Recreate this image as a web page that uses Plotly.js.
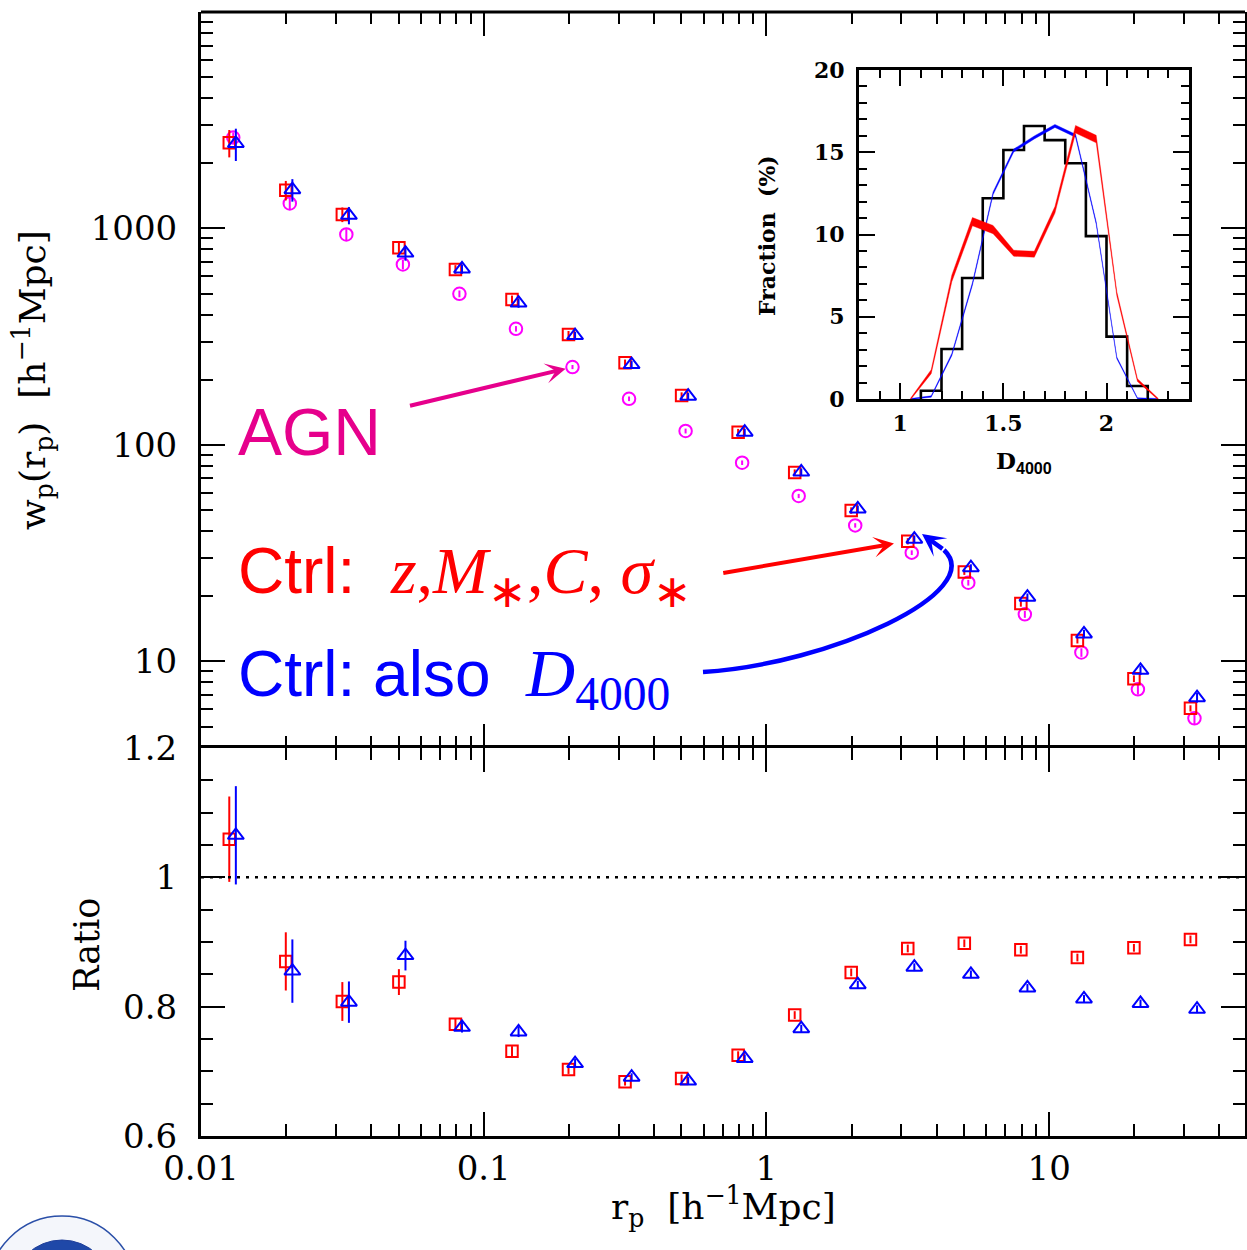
<!DOCTYPE html>
<html><head><meta charset="utf-8">
<script src="https://cdn.plot.ly/plotly-3.0.1.min.js"></script>
<style>html,body{margin:0;padding:0;background:#fff}#chart{width:1247px;height:1250px}</style>
</head><body><div id="chart"></div>
<script>
// ---- main panel data ----
const rp = [0.01259, 0.01995, 0.03162, 0.05012, 0.07943, 0.1259, 0.1995, 0.3162, 0.5012, 0.7943, 1.259, 1.995, 3.162, 5.012, 7.943, 12.59, 19.95, 31.62];
const wpAGN   = [2630, 1305, 938, 682, 499, 344, 229, 163.4, 116, 82.8, 58.1, 42.5, 31.8, 23.1, 16.5, 11.0, 7.43, 5.46];
const errAGN  = [150, 85, 55, 35, 18, 10, 5, 4, 3, 2, 1.3, 1, 0.8, 0.7, 0.6, 0.5, 0.4, 0.35];
const wpCtrl  = [2490, 1503, 1160, 815, 647, 470, 324, 240, 169, 114.6, 74.5, 49.8, 35.9, 25.9, 18.5, 12.5, 8.32, 6.07];
const errCtrl = [360, 155, 90, 50, 30, 20, 12, 8, 6, 4, 2.6, 1.7, 1.2, 0.8, 0.6, 0.4, 0.3, 0.2];
const wpCtrlD = [2470, 1510, 1150, 770, 650, 452, 320, 235, 168, 114.5, 75, 50.6, 36.7, 27.1, 19.8, 13.4, 9.1, 6.8];
const errCtrlD= [420, 180, 105, 60, 32, 22, 13, 9, 6, 4.3, 2.8, 1.9, 1.4, 1.0, 0.8, 0.6, 0.45, 0.35];
// ---- ratio panel data ----
const ratioCtrl     = [1.059, 0.870, 0.808, 0.838, 0.773, 0.731, 0.703, 0.684, 0.689, 0.725, 0.787, 0.853, 0.890, 0.898, 0.888, 0.876, 0.891, 0.904];
const ratioCtrlErr  = [0.066, 0.045, 0.030, 0.020, 0.008, 0.008, 0.007, 0.006, 0.006, 0.006, 0.006, 0.006, 0.006, 0.006, 0.006, 0.006, 0.006, 0.006];
const ratioCtrlD    = [1.065, 0.855, 0.807, 0.879, 0.768, 0.761, 0.712, 0.691, 0.685, 0.720, 0.766, 0.834, 0.861, 0.850, 0.829, 0.812, 0.805, 0.796];
const ratioCtrlDErr = [0.076, 0.049, 0.032, 0.023, 0.008, 0.008, 0.007, 0.006, 0.006, 0.006, 0.006, 0.006, 0.006, 0.006, 0.006, 0.006, 0.006, 0.006];
// ---- inset data ----
const d4000     = [1.05, 1.15, 1.25, 1.35, 1.45, 1.55, 1.65, 1.75, 1.85, 1.95, 2.05, 2.15, 2.25];
const fracAGN   = [0, 1.66, 7.33, 10.78, 10.3, 8.86, 8.8, 11.5, 16.4, 15.8, 6.4, 1.15, 0];
const fracAGNe  = [0.04, 0.12, 0.2, 0.25, 0.25, 0.18, 0.18, 0.2, 0.23, 0.23, 0.12, 0.08, 0.04];
const fracCtrlD = [0, 0.15, 2.7, 7.0, 12.5, 15.1, 15.9, 16.6, 16.0, 10.7, 2.5, 0.04, 0];
const fracCtrlDe= [0.03, 0.04, 0.07, 0.08, 0.09, 0.09, 0.09, 0.09, 0.09, 0.07, 0.05, 0.03, 0.03];
const histEdges = [1.1, 1.2, 1.3, 1.4, 1.5, 1.6, 1.7, 1.8, 1.9, 2.0, 2.1, 2.2];
const histVals  = [0.5, 3.04, 7.36, 12.2, 15.14, 16.6, 15.74, 14.33, 9.9, 3.79, 0.79];
// tick labels
const xTickVals = [0.01, 0.1, 1, 10], xTickText = ['0.01', '0.1', '1', '10'];
const yTickVals = [10, 100, 1000], yTickText = ['10', '100', '1000'];
const rTickVals = [0.6, 0.8, 1, 1.2], rTickText = ['0.6', '0.8', '1', '1.2'];
const iXTickVals = [1, 1.5, 2], iXTickText = ['1', '1.5', '2'];
const iYTickVals = [0, 5, 10, 15, 20], iYTickText = ['0', '5', '10', '15', '20'];

// ---- styling ----
const RED = '#FF0000', BLUE = '#0000FF', MAG = '#FF00FF', PINK = '#E6008C';
const offAGN = 1.033, offBlue = 1.055;
const ML = 201, MR = 2, MT = 12, MB = 114, W = 1247, H = 1250;
const PW = W - ML - MR, PH = H - MT - MB;
const px = v => (v - ML) / PW;
const py = v => (H - MB - v) / PH;
const split = py(748);

function errY(arr, color) { return {type: 'data', array: arr, visible: true, color: color, thickness: 2, width: 0}; }
function band(x, y, e) {
  const xs = x.concat(x.slice().reverse());
  const ys = y.map((v, i) => v + e[i]).concat(y.map((v, i) => v - e[i]).reverse());
  return {xs, ys};
}

const traces = [];
traces.push({x: rp.map(v => v * offAGN), y: wpAGN, error_y: errY(errAGN, MAG), mode: 'markers', xaxis: 'x', yaxis: 'y',
  marker: {symbol: 'circle-open', size: 12.5, color: MAG, line: {width: 2}}, hoverinfo: 'skip'});
traces.push({x: rp, y: wpCtrl, error_y: errY(errCtrl, RED), mode: 'markers', xaxis: 'x', yaxis: 'y',
  marker: {symbol: 'square-open', size: 11.5, color: RED, line: {width: 2}}, hoverinfo: 'skip'});
traces.push({x: rp.map(v => v * offBlue), y: wpCtrlD, error_y: errY(errCtrlD, BLUE), mode: 'markers', xaxis: 'x', yaxis: 'y',
  marker: {symbol: 'triangle-up-open', size: 14, color: BLUE, line: {width: 2}}, hoverinfo: 'skip'});
traces.push({x: rp, y: ratioCtrl, error_y: errY(ratioCtrlErr, RED), mode: 'markers', xaxis: 'x2', yaxis: 'y2',
  marker: {symbol: 'square-open', size: 11.5, color: RED, line: {width: 2}}, hoverinfo: 'skip'});
traces.push({x: rp.map(v => v * offBlue), y: ratioCtrlD, error_y: errY(ratioCtrlDErr, BLUE), mode: 'markers', xaxis: 'x2', yaxis: 'y2',
  marker: {symbol: 'triangle-up-open', size: 14, color: BLUE, line: {width: 2}}, hoverinfo: 'skip'});
// inset
const hx = [histEdges[0]].concat(histEdges), hy = [0].concat(histVals, [0]);
traces.push({x: hx, y: hy, mode: 'lines', line: {shape: 'hv', color: 'black', width: 2.6}, xaxis: 'x3', yaxis: 'y3', hoverinfo: 'skip'});
const bb = band(d4000, fracCtrlD, fracCtrlDe);
traces.push({x: bb.xs, y: bb.ys, mode: 'lines', fill: 'toself', fillcolor: BLUE, line: {color: BLUE, width: 0.4}, xaxis: 'x3', yaxis: 'y3', hoverinfo: 'skip'});
const rb = band(d4000, fracAGN, fracAGNe);
traces.push({x: rb.xs, y: rb.ys, mode: 'lines', fill: 'toself', fillcolor: RED, line: {color: RED, width: 0.4}, xaxis: 'x3', yaxis: 'y3', hoverinfo: 'skip'});

const tickFont = {family: 'DejaVu Serif', size: 34, color: 'black'};
const insetFont = {family: 'DejaVu Serif', size: 22, color: 'black', weight: 'bold'};
function mainAxis(extra) {
  return Object.assign({ticks: 'inside', ticklen: 24, tickwidth: 2, tickcolor: 'black', showline: true, linewidth: 3, linecolor: 'black',
    mirror: 'ticks', showgrid: false, zeroline: false, tickfont: tickFont, tickmode: 'array'}, extra);
}
const xr = [-2, Math.log10(49.3)];
const layout = {
  width: W, height: H, margin: {l: ML, r: MR, t: MT, b: MB}, paper_bgcolor: 'white', plot_bgcolor: 'rgba(0,0,0,0)', showlegend: false,
  xaxis: mainAxis({type: 'log', range: xr, domain: [0, 1], anchor: 'y', tickvals: xTickVals, ticktext: xTickText, showticklabels: false, showline: false,
    minor: {ticks: 'inside', ticklen: 12, tickwidth: 2, tickcolor: 'black', dtick: 'D1', showgrid: false}}),
  yaxis: mainAxis({type: 'log', range: [0.6, 4.0], domain: [split, 1], anchor: 'x', tickvals: yTickVals, ticktext: yTickText, ticklabelstandoff: 14,
    minor: {ticks: 'inside', ticklen: 12, tickwidth: 2, tickcolor: 'black', dtick: 'D1', showgrid: false}}),
  xaxis2: mainAxis({type: 'log', range: xr, domain: [0, 1], anchor: 'y2', tickvals: xTickVals, ticktext: xTickText, ticklabelstandoff: 0,
    minor: {ticks: 'inside', ticklen: 12, tickwidth: 2, tickcolor: 'black', dtick: 'D1', showgrid: false}}),
  yaxis2: mainAxis({range: [0.6, 1.2], domain: [0, split], anchor: 'x2', tickvals: rTickVals, ticktext: rTickText, ticklabelstandoff: 14,
    minor: {ticks: 'inside', ticklen: 12, tickwidth: 2, tickcolor: 'black', dtick: 0.05, tick0: 0.6, showgrid: false}}),
  xaxis3: {range: [0.8, 2.4], domain: [px(859), px(1189)], anchor: 'y3', tickmode: 'array', tickvals: iXTickVals, ticktext: iXTickText,
    ticks: 'inside', ticklen: 16, tickwidth: 2, tickcolor: 'black', showline: true, linewidth: 3, linecolor: 'black', mirror: 'ticks',
    showgrid: false, zeroline: false, tickfont: insetFont, ticklabelstandoff: 3,
    minor: {ticks: 'inside', ticklen: 8, tickwidth: 2, tickcolor: 'black', dtick: 0.1, tick0: 0.8, showgrid: false}},
  yaxis3: {range: [0, 20], domain: [py(399), py(70)], anchor: 'x3', tickmode: 'array', tickvals: iYTickVals, ticktext: iYTickText,
    ticks: 'inside', ticklen: 16, tickwidth: 2, tickcolor: 'black', showline: true, linewidth: 3, linecolor: 'black', mirror: 'ticks',
    showgrid: false, zeroline: false, tickfont: insetFont, ticklabelstandoff: 7,
    minor: {ticks: 'inside', ticklen: 8, tickwidth: 2, tickcolor: 'black', dtick: 1, showgrid: false}},
  shapes: [
    // top edge of the upper frame (upper x axis line is hidden so the panel divider is not doubled)
    {type: 'line', xref: 'x domain', yref: 'y domain', x0: 0, x1: 1, y0: 1, y1: 1, line: {color: 'black', width: 3}},
    {type: 'line', xref: 'x2 domain', yref: 'y2', x0: 0, x1: 1, y0: 1, y1: 1, line: {color: 'black', width: 2.5, dash: '3px,6px'}},
    {type: 'path', xref: 'paper', yref: 'paper', line: {color: BLUE, width: 4.5},
      path: `M ${px(703)},${py(672)} C ${px(830)},${py(664)} ${px(988)},${py(592)} ${px(944)},${py(550)}`},
    // partial logo at bottom-left corner
    {type: 'circle', xref: 'paper', yref: 'paper', x0: px(-12), x1: px(136), y0: py(1364), y1: py(1216), line: {color: '#2a4fa8', width: 1.5}, fillcolor: '#f4f6fb'},
    {type: 'circle', xref: 'paper', yref: 'paper', x0: px(12), x1: px(112), y0: py(1340), y1: py(1240), line: {color: '#1f3f9a', width: 1}, fillcolor: '#1f48a8'}
  ],
  annotations: [
    {xref: 'paper', yref: 'paper', x: px(33), y: py(380), textangle: -90, showarrow: false, xanchor: 'center', yanchor: 'middle',
      text: 'w<sub>p</sub>(r<sub>p</sub>)\u00a0\u00a0[h<sup>\u22121</sup>Mpc]', font: {family: 'DejaVu Serif', size: 36, color: 'black'}},
    {xref: 'paper', yref: 'paper', x: px(723), y: py(1207), showarrow: false, xanchor: 'center', yanchor: 'middle',
      text: 'r<sub>p</sub>\u00a0\u00a0[h<sup>\u22121</sup>Mpc]', font: {family: 'DejaVu Serif', size: 36, color: 'black'}},
    {xref: 'paper', yref: 'paper', x: px(87), y: py(945), textangle: -90, showarrow: false, xanchor: 'center', yanchor: 'middle',
      text: 'Ratio', font: {family: 'DejaVu Serif', size: 35, color: 'black'}},
    {xref: 'paper', yref: 'paper', x: px(767), y: py(236), textangle: -90, showarrow: false, xanchor: 'center', yanchor: 'middle',
      text: '<b>Fraction\u00a0\u00a0(%)</b>', font: {family: 'DejaVu Serif', size: 22, color: 'black'}},
    {xref: 'paper', yref: 'paper', x: px(1024), y: py(462), showarrow: false, xanchor: 'center', yanchor: 'middle',
      text: '<b>D<sub><span style="font-family:Liberation Sans">4000</span></sub></b>', font: {family: 'DejaVu Serif', size: 23, color: 'black'}},
    {xref: 'paper', yref: 'paper', x: px(236), y: py(432), showarrow: false, xanchor: 'left', yanchor: 'middle',
      text: 'AGN', font: {family: 'Liberation Sans', size: 66, color: PINK}},
    {xref: 'paper', yref: 'paper', x: px(236), y: py(575), showarrow: false, xanchor: 'left', yanchor: 'middle',
      text: 'Ctrl:\u00a0 <span style="font-family:Liberation Serif;font-size:66px"><i>z</i>,<i>M</i><sub>\u2217</sub>,<i>C</i>, <i>\u03c3</i><sub>\u2217</sub></span>',
      font: {family: 'Liberation Sans', size: 64, color: RED}},
    {xref: 'paper', yref: 'paper', x: px(236), y: py(677), showarrow: false, xanchor: 'left', yanchor: 'middle',
      text: 'Ctrl: also\u00a0 <span style="font-family:Liberation Serif;font-size:68px"><i>D</i><sub>4000</sub></span>',
      font: {family: 'Liberation Sans', size: 64, color: BLUE}},
    // arrows
    {xref: 'x', yref: 'y', x: Math.log10(rp[6] * offAGN), y: Math.log10(wpAGN[6]), ax: -164, ay: 39, text: '', showarrow: true,
      arrowhead: 3, arrowsize: 0.85, arrowwidth: 4, arrowcolor: PINK, standoff: 7},
    {xref: 'x', yref: 'y', x: Math.log10(rp[12]), y: Math.log10(wpCtrl[12]), ax: -186, ay: 32, text: '', showarrow: true,
      arrowhead: 3, arrowsize: 0.85, arrowwidth: 4, arrowcolor: RED, standoff: 14},
    {xref: 'paper', yref: 'paper', x: px(922), y: py(534), ax: 22, ay: 16, text: '', showarrow: true,
      arrowhead: 3, arrowsize: 0.85, arrowwidth: 4.5, arrowcolor: BLUE, standoff: 0}
  ]
};
Plotly.newPlot('chart', traces, layout, {staticPlot: true, displayModeBar: false});
</script>
</body></html>
